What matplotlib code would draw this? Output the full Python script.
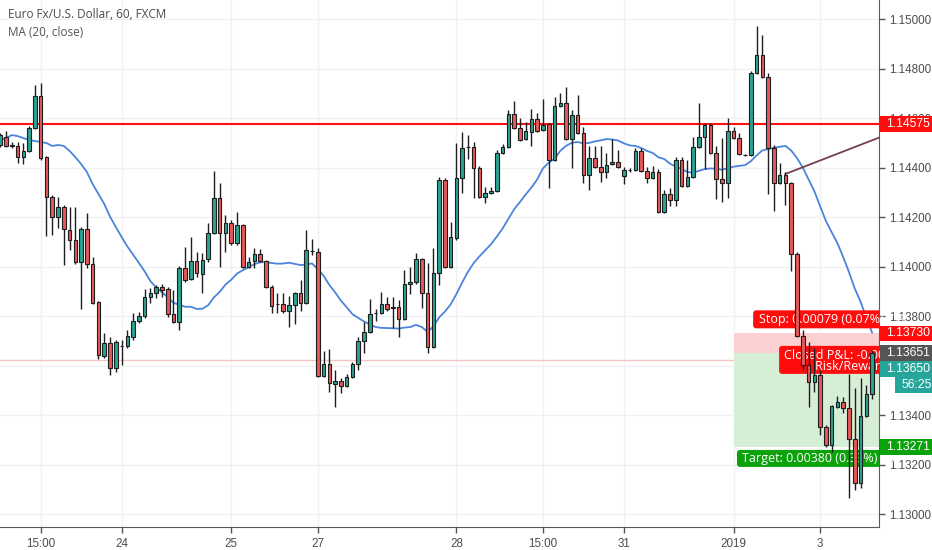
import numpy as np
import pandas as pd
import matplotlib.pyplot as plt
from matplotlib.patches import Rectangle, FancyBboxPatch
from matplotlib.transforms import blended_transform_factory

plt.rcParams['font.family'] = ['Liberation Sans', 'DejaVu Sans']

# EUR/USD 1h candles (FXCM)
open_ = [1.14491, 1.14523, 1.14491, 1.14487, 1.14442, 1.14467, 1.14560, 1.14689, 1.14442, 1.14281,
         1.14200, 1.14240, 1.14148, 1.14107, 1.14018, 1.14152, 1.14010, 1.13857, 1.13639, 1.13691,
         1.13590, 1.13679, 1.13679, 1.13715, 1.13780, 1.13800, 1.13877, 1.13893, 1.13917, 1.13909,
         1.13808, 1.13776, 1.13994, 1.13950, 1.14022, 1.13970, 1.14030, 1.14135, 1.14277, 1.14135,
         1.14176, 1.14095, 1.14168, 1.13998, 1.14022, 1.14051, 1.14022, 1.13917, 1.13849, 1.13849,
         1.13820, 1.13845, 1.13893, 1.13853, 1.14063, 1.14059, 1.13558, 1.13606, 1.13525, 1.13538,
         1.13517, 1.13554, 1.13606, 1.13699, 1.13735, 1.13812, 1.13812, 1.13849, 1.13836, 1.13836,
         1.13788, 1.13929, 1.13937, 1.14030, 1.13893, 1.13675, 1.13974, 1.14350, 1.13998, 1.14115,
         1.14358, 1.14483, 1.14483, 1.14398, 1.14281, 1.14297, 1.14305, 1.14459, 1.14483, 1.14616,
         1.14560, 1.14515, 1.14544, 1.14596, 1.14552, 1.14576, 1.14430, 1.14649, 1.14661, 1.14515,
         1.14612, 1.14539, 1.14370, 1.14438, 1.14402, 1.14382, 1.14414, 1.14422, 1.14366, 1.14390,
         1.14390, 1.14467, 1.14386, 1.14358, 1.14382, 1.14220, 1.14293, 1.14269, 1.14430, 1.14325,
         1.14362, 1.14483, 1.14523, 1.14572, 1.14459, 1.14354, 1.14337, 1.14548, 1.14519, 1.14451,
         1.14451, 1.14782, 1.14855, 1.14766, 1.14479, 1.14337, 1.14370, 1.14337, 1.14051, 1.13719,
         1.13602, 1.13534, 1.13562, 1.13352, 1.13279, 1.13432, 1.13453, 1.13428, 1.13303, 1.13125,
         1.13396, 1.13485]
high = [1.14539, 1.14548, 1.14503, 1.14503, 1.14499, 1.14568, 1.14733, 1.14741, 1.14447, 1.14289,
        1.14281, 1.14249, 1.14240, 1.14240, 1.14160, 1.14216, 1.14038, 1.13861, 1.13731, 1.13715,
        1.13703, 1.13703, 1.13744, 1.13812, 1.13816, 1.13909, 1.13913, 1.13925, 1.13929, 1.13917,
        1.13905, 1.14002, 1.14079, 1.14119, 1.14059, 1.14055, 1.14176, 1.14386, 1.14337, 1.14208,
        1.14188, 1.14220, 1.14172, 1.14038, 1.14075, 1.14071, 1.14026, 1.13925, 1.13893, 1.13893,
        1.13881, 1.13897, 1.13946, 1.14148, 1.14111, 1.14075, 1.13659, 1.13667, 1.13582, 1.13550,
        1.13566, 1.13614, 1.13715, 1.13776, 1.13869, 1.13828, 1.13897, 1.13877, 1.13877, 1.13865,
        1.13986, 1.13998, 1.14055, 1.14034, 1.14014, 1.14075, 1.14362, 1.14358, 1.14180, 1.14499,
        1.14544, 1.14531, 1.14503, 1.14406, 1.14321, 1.14321, 1.14471, 1.14495, 1.14632, 1.14669,
        1.14600, 1.14584, 1.14636, 1.14620, 1.14677, 1.14580, 1.14685, 1.14701, 1.14725, 1.14632,
        1.14693, 1.14564, 1.14487, 1.14487, 1.14487, 1.14459, 1.14515, 1.14471, 1.14402, 1.14398,
        1.14479, 1.14479, 1.14402, 1.14406, 1.14394, 1.14309, 1.14317, 1.14442, 1.14442, 1.14430,
        1.14523, 1.14661, 1.14580, 1.14580, 1.14487, 1.14519, 1.14600, 1.14564, 1.14539, 1.14455,
        1.14790, 1.14972, 1.14935, 1.14782, 1.14491, 1.14418, 1.14382, 1.14341, 1.14059, 1.13744,
        1.13695, 1.13671, 1.13582, 1.13360, 1.13441, 1.13477, 1.13473, 1.13566, 1.13509, 1.13550,
        1.13521, 1.13663]
low = [1.14483, 1.14483, 1.14479, 1.14418, 1.14414, 1.14463, 1.14556, 1.14430, 1.14123, 1.14127,
       1.14156, 1.14006, 1.14067, 1.14010, 1.13828, 1.13994, 1.13849, 1.13626, 1.13630, 1.13562,
       1.13574, 1.13602, 1.13671, 1.13703, 1.13772, 1.13792, 1.13853, 1.13873, 1.13877, 1.13796,
       1.13772, 1.13744, 1.13937, 1.13946, 1.13958, 1.13893, 1.14018, 1.14131, 1.13998, 1.14059,
       1.14087, 1.14087, 1.13994, 1.13994, 1.13994, 1.14018, 1.13913, 1.13812, 1.13812, 1.13812,
       1.13756, 1.13768, 1.13820, 1.13849, 1.14047, 1.13554, 1.13554, 1.13493, 1.13432, 1.13489,
       1.13513, 1.13550, 1.13582, 1.13651, 1.13731, 1.13780, 1.13808, 1.13820, 1.13752, 1.13715,
       1.13784, 1.13889, 1.13929, 1.13832, 1.13651, 1.13671, 1.13925, 1.13994, 1.13994, 1.14107,
       1.14297, 1.14434, 1.14277, 1.14277, 1.14257, 1.14293, 1.14301, 1.14455, 1.14479, 1.14556,
       1.14507, 1.14511, 1.14487, 1.14544, 1.14548, 1.14317, 1.14426, 1.14644, 1.14511, 1.14398,
       1.14535, 1.14337, 1.14309, 1.14398, 1.14341, 1.14358, 1.14410, 1.14398, 1.14333, 1.14382,
       1.14386, 1.14382, 1.14337, 1.14354, 1.14216, 1.14216, 1.14245, 1.14245, 1.14321, 1.14321,
       1.14358, 1.14479, 1.14394, 1.14455, 1.14273, 1.14261, 1.14277, 1.14515, 1.14451, 1.14447,
       1.14447, 1.14778, 1.14762, 1.14293, 1.14224, 1.14333, 1.14249, 1.13982, 1.13715, 1.13582,
       1.13432, 1.13493, 1.13319, 1.13271, 1.13251, 1.13428, 1.13408, 1.13065, 1.13097, 1.13105,
       1.13392, 1.13465]
close = [1.14531, 1.14487, 1.14487, 1.14442, 1.14467, 1.14560, 1.14689, 1.14438, 1.14281, 1.14200,
         1.14240, 1.14152, 1.14107, 1.14018, 1.14152, 1.14010, 1.13853, 1.13643, 1.13691, 1.13590,
         1.13695, 1.13679, 1.13719, 1.13780, 1.13800, 1.13877, 1.13893, 1.13917, 1.13905, 1.13808,
         1.13776, 1.13994, 1.13946, 1.14022, 1.13974, 1.14026, 1.14135, 1.14277, 1.14135, 1.14176,
         1.14095, 1.14168, 1.13998, 1.14018, 1.14051, 1.14022, 1.13917, 1.13841, 1.13849, 1.13820,
         1.13845, 1.13893, 1.13853, 1.14067, 1.14063, 1.13558, 1.13606, 1.13529, 1.13538, 1.13517,
         1.13554, 1.13606, 1.13699, 1.13735, 1.13808, 1.13812, 1.13849, 1.13828, 1.13832, 1.13788,
         1.13929, 1.13937, 1.14030, 1.13893, 1.13675, 1.13974, 1.14350, 1.13998, 1.14119, 1.14358,
         1.14479, 1.14483, 1.14398, 1.14281, 1.14297, 1.14305, 1.14459, 1.14483, 1.14616, 1.14560,
         1.14511, 1.14548, 1.14596, 1.14548, 1.14572, 1.14430, 1.14649, 1.14661, 1.14515, 1.14612,
         1.14539, 1.14370, 1.14438, 1.14402, 1.14382, 1.14410, 1.14422, 1.14402, 1.14390, 1.14390,
         1.14467, 1.14386, 1.14358, 1.14382, 1.14220, 1.14293, 1.14269, 1.14430, 1.14325, 1.14362,
         1.14483, 1.14523, 1.14572, 1.14459, 1.14354, 1.14337, 1.14548, 1.14519, 1.14455, 1.14451,
         1.14782, 1.14855, 1.14766, 1.14479, 1.14337, 1.14370, 1.14337, 1.14051, 1.13719, 1.13602,
         1.13534, 1.13562, 1.13352, 1.13279, 1.13437, 1.13453, 1.13428, 1.13303, 1.13125, 1.13396,
         1.13485, 1.13650]
# MA(20) for the first bars (earlier closes are off screen)
ma_head = [1.14511, 1.14519, 1.14531, 1.14527, 1.14519, 1.14511, 1.14507, 1.14503, 1.14499, 1.14487,
           1.14491, 1.14487, 1.14467, 1.14442, 1.14414, 1.14382, 1.14333, 1.14293, 1.14253]

tick_pos = [7, 21, 40, 55, 79, 94, 108, 127, 142]
tick_lab = ['15:00', '24', '25', '27', '28', '15:00', '31', '2019', '3']
price_ticks = [1.130, 1.132, 1.134, 1.136, 1.138, 1.140, 1.142, 1.144, 1.146, 1.148, 1.150]

resistance = 1.14575
pink_line = 1.13622
entry = 1.13651
stop = 1.13730
target = 1.13271
last_price = 1.13650
countdown = '56:25'
trend_x = [136, 153]
trend_y = [1.14374, 1.14528]

UP = '#2aa391'
DOWN = '#e85858'
EDGE = '#1e1e1e'

data = pd.DataFrame({'Open': open_, 'High': high, 'Low': low, 'Close': close})
data['MA'] = data.Close.rolling(20).mean()
data.loc[:18, 'MA'] = ma_head

fig = plt.figure(figsize=(9.32, 5.5), dpi=100)
ax = fig.add_axes([0, 23/550, 879/932, 527/550])
ylo, yhi = 1.129475, 1.150768
px = 527 / (yhi - ylo)  # pixels per price unit

ax.set_axisbelow(True)
ax.grid(True, color='#f0f1f3', lw=1)

ax.axhline(resistance, color='#ff1010', lw=1.5, zorder=3)
ax.axhline(pink_line, color='#f6c4c4', lw=1, zorder=2)

# long position tool
ax.add_patch(Rectangle((127, entry), 40, stop - entry, fc='#fbd0d0', ec='none', zorder=2))
ax.add_patch(Rectangle((127, target), 40, entry - target, fc='#d7eed6', ec='none', zorder=2))

ax.plot(data.index, data.MA, color='#4a84dc', lw=1.3, zorder=4)
ax.plot(trend_x, trend_y, color='#74404f', lw=1.3, zorder=8)

asp = (1 / px) / (1 / 5.775)
def tag(x0, y0, y1, fc):
    p = FancyBboxPatch((x0, y0), 40, y1 - y0, boxstyle='round,pad=0,rounding_size=0.5',
                       mutation_aspect=asp, fc=fc, ec='none', zorder=5)
    ax.add_patch(p)

tfont = dict(family=['Open Sans', 'DejaVu Sans'], fontsize=9.0, color='white', zorder=6, va='center')
tag(130.4, stop + 5 / px, stop + 23 / px, '#ff0d0d')
ax.text(131.5, stop + 14 / px, 'Stop: 0.00079 (0.07%) 7.9', **tfont)
tag(134.9, entry - 21 / px, entry + 7 / px, '#ff0d0d')
ax.text(135.7, entry - 2.5 / px, 'Closed P&L: -0.00001 (0.00%)', **tfont)
ax.text(141.1, entry - 14 / px, 'Risk/Reward Ratio: 4.81', **tfont)
tag(127.6, target - 20 / px, target - 3 / px, '#0ba20b')
ax.text(128.4, target - 11.5 / px, 'Target: 0.00380 (0.33%) 38', **tfont)

# candles
idx = np.arange(len(data))
up = (data.Close >= data.Open).values
body = (data.Close - data.Open).abs().clip(lower=0.000012).values
base = np.minimum(data.Open, data.Close).values
ax.vlines(idx, data.Low, data.High, color=EDGE, lw=1, zorder=9)
ax.bar(idx[up], body[up], bottom=base[up], width=0.62, color=UP, edgecolor=EDGE, lw=0.8, zorder=10)
ax.bar(idx[~up], body[~up], bottom=base[~up], width=0.62, color=DOWN, edgecolor=EDGE, lw=0.8, zorder=10)

ax.set_xlim(-0.05, 152.2)
ax.set_ylim(ylo, yhi)

ax.yaxis.tick_right()
# the 1.13600 label sits under the last-price tags
ax.set_yticks(price_ticks, ['' if p == 1.136 else '%.5f' % p for p in price_ticks])
ax.set_xticks(tick_pos, tick_lab)
ax.tick_params(axis='y', length=4, width=1, color='#555555', labelcolor='#4d4d4d', labelsize=8.4, pad=3)
ax.tick_params(axis='x', length=4, width=1, color='#555555', labelcolor='#4d4d4d', labelsize=8.4, pad=4)
for s in ['top', 'left']:
    ax.spines[s].set_visible(False)
for s in ['right', 'bottom']:
    ax.spines[s].set_color('#5a5a5a')

# price scale tags
fx = blended_transform_factory(fig.transFigure, ax.transData)
def price_tag(y, text, fc, x0=880):
    h = 15.5 / px
    ax.add_patch(Rectangle((x0 / 932, y - h / 2), 1 - x0 / 932, h, transform=fx,
                           fc=fc, ec='none', clip_on=False, zorder=20))
    ax.text((x0 + 6) / 932, y, text, transform=fx, color='white', fontsize=8.8,
            va='center', ha='left', clip_on=False, zorder=21)

price_tag(resistance, '%.5f' % resistance, '#ff0d0d')
price_tag(stop, '%.5f' % stop, '#ff0d0d')
price_tag(entry, '%.5f' % entry, '#555555')
price_tag(last_price - 16 / px, '%.5f' % last_price, '#26a69a')
price_tag(last_price - 32 / px, countdown, '#26a69a', x0=895)
price_tag(target, '%.5f' % target, '#0ba20b')

fig.text(8 / 932, 1 - 15 / 550, 'Euro Fx/U.S. Dollar, 60, FXCM', fontsize=8.5,
         family=['Open Sans', 'DejaVu Sans'], color='#4a4a4a', va='center')
fig.text(8 / 932, 1 - 32 / 550, 'MA (20, close)', fontsize=8.5,
         family=['Open Sans', 'DejaVu Sans'], color='#555555', va='center')

fig.savefig('out.png', dpi=100, facecolor='white')
